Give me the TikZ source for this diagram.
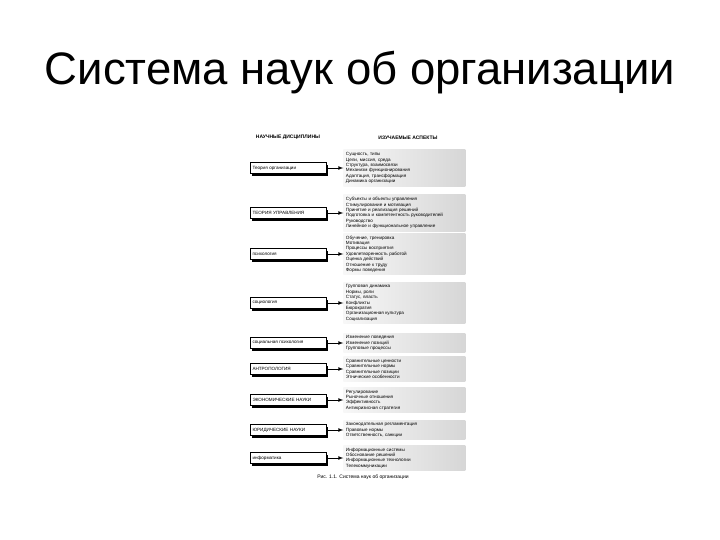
\documentclass[tikz,border=0pt]{standalone}
\usepackage{fontspec}
\setmainfont{Liberation Sans}
\usetikzlibrary{positioning,shadows}

\begin{document}
\begin{tikzpicture}[x=1pt,y=-1pt]
\tikzstyle{disc} = [draw, fill=white, line width=0.5pt, minimum width=76pt, minimum height=11pt, text width=71pt, align=left, inner sep=2pt, font=\fontsize{4.6}{5}\selectfont, drop shadow={shadow xshift=2.4pt,shadow yshift=-2.4pt,fill=black,opacity=1}]
\tikzstyle{aspect} = [left color=gray!6, right color=gray!32, text width=117pt, align=left, inner sep=2.5pt, font=\fontsize{4.6}{5.4}\selectfont]
\tikzstyle{head} = [anchor=base, font=\bfseries\fontsize{5}{6}\selectfont]
\tikzstyle{link} = [->, >=latex, line width=0.7pt]
%
\useasboundingbox (0,0) rectangle (720,540);

	\node[anchor=base] (title) at (360,85) {\fontsize{45.5}{50}\selectfont Система наук об организации};

	\node[head] (hleft) at (288,139) {НАУЧНЫЕ ДИСЦИПЛИНЫ};
	\node[head] (hright) at (408,140) {ИЗУЧАЕМЫЕ АСПЕКТЫ};

	\node[disc] (d1) at (288,168) {Теория организации};
	\node[disc] (d2) at (288,213) {ТЕОРИЯ УПРАВЛЕНИЯ};
	\node[disc] (d3) at (288,254) {психология};
	\node[disc] (d4) at (288,303) {социология};
	\node[disc] (d5) at (288,343) {социальная психология};
	\node[disc] (d6) at (288,369) {АНТРОПОЛОГИЯ};
	\node[disc] (d7) at (288,400) {ЭКОНОМИЧЕСКИЕ НАУКИ};
	\node[disc] (d8) at (288,430) {ЮРИДИЧЕСКИЕ НАУКИ};
	\node[disc] (d9) at (288,458) {информатика};

	\node[aspect, right=17pt of d1] (a1) {Сущность, типы\\Цели, миссия, среда\\Структура, взаимосвязи\\Механизм функционирования\\Адаптация, трансформация\\Динамика организации};
	\node[aspect, right=17pt of d2] (a2) {Субъекты и объекты управления\\Стимулирование и мотивация\\Принятие и реализация решений\\Подготовка и компетентность руководителей\\Руководство\\Линейное и функциональное управление};
	\node[aspect, right=17pt of d3] (a3) {Обучение, тренировка\\Мотивация\\Процессы восприятия\\Удовлетворенность работой\\Оценка действий\\Отношение к труду\\Формы поведения};
	\node[aspect, right=17pt of d4] (a4) {Групповая динамика\\Нормы, роли\\Статус, власть\\Конфликты\\Бюрократия\\Организационная культура\\Социализация};
	\node[aspect, right=17pt of d5] (a5) {Изменение поведения\\Изменение позиций\\Групповые процессы};
	\node[aspect, right=17pt of d6] (a6) {Сравнительные ценности\\Сравнительные нормы\\Сравнительные позиции\\Этнические особенности};
	\node[aspect, right=17pt of d7] (a7) {Регулирование\\Рыночные отношения\\Эффективность\\Антикризисная стратегия};
	\node[aspect, right=17pt of d8] (a8) {Законодательная регламентация\\Правовые нормы\\Ответственность, санкции};
	\node[aspect, right=17pt of d9] (a9) {Информационные системы\\Обоснование решений\\Информационные технологии\\Телекоммуникации};

	\draw[link] (d1) -- (a1);
	\draw[link] (d2) -- (a2);
	\draw[link] (d3) -- (a3);
	\draw[link] (d4) -- (a4);
	\draw[link] (d5) -- (a5);
	\draw[link] (d6) -- (a6);
	\draw[link] (d7) -- (a7);
	\draw[link] (d8) -- (a8);
	\draw[link] (d9) -- (a9);

	\node[anchor=base, font=\fontsize{5}{6}\selectfont] (caption) at (363,478) {Рис. 1.1. Система наук об организации};
\end{tikzpicture}
\end{document}
